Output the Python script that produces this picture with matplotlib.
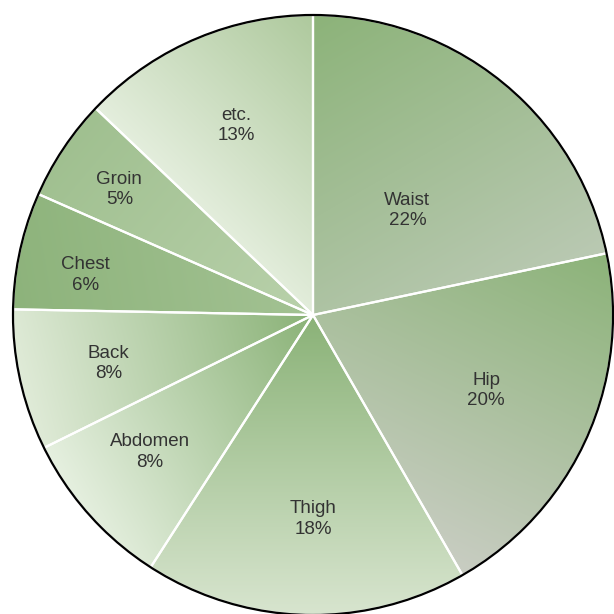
import numpy as np
import matplotlib
matplotlib.use("Agg")
from matplotlib import pyplot as plt
from matplotlib.colors import to_rgb
from matplotlib.patches import Circle

# data (clockwise from 12 o'clock)
labels = ["Waist", "Hip", "Thigh", "Abdomen", "Back", "Chest", "Groin", "etc."]
label_pct = [22, 20, 18, 8, 8, 6, 5, 13]
shares = [21.7, 20.0, 17.4, 8.6, 7.6, 6.3, 5.5, 12.9]

# per-wedge gradient: direction (deg), start colour, end colour
grad_dir = [-60, -115, -90, -150, 195, 10, -40, 45]
grad_from = ["#8cb379", "#8cb379", "#8ab277", "#8ab277", "#8ab277", "#8db37b", "#a0c090", "#e4eedd"]
grad_to = ["#bac9b3", "#c9cdc3", "#d8e5cf", "#e6f0e0", "#e0ebd8", "#a3c293", "#b9d1ab", "#aec99d"]
# label placement (radius, angle in deg)
label_r = [0.47, 0.63, 0.68, 0.71, 0.70, 0.77, 0.77, 0.68]
label_ang = [48, -23.6, -90, -140, -166.6, 170, 147, 112]

fig = plt.figure(figsize=(6.14, 6.14), dpi=100)
ax = fig.add_axes([0, 0, 1, 1])
R = 300.0

wedges, _ = ax.pie(shares, startangle=90, counterclock=False, radius=1, normalize=True,
                   wedgeprops=dict(edgecolor="white", linewidth=1.6, facecolor="none"))

xs = np.linspace(-1.02, 1.02, 500)
X, Y = np.meshgrid(xs, xs[::-1])
for w, d, c0, c1 in zip(wedges, grad_dir, grad_from, grad_to):
    ux, uy = np.cos(np.radians(d)), np.sin(np.radians(d))
    verts = w.get_path().vertices
    pv = verts[:, 0] * ux + verts[:, 1] * uy
    P = X * ux + Y * uy
    t = np.clip((P - pv.min()) / (pv.max() - pv.min()), 0, 1)[..., None]
    img = np.array(to_rgb(c0)) * (1 - t) + np.array(to_rgb(c1)) * t
    im = ax.imshow(img, extent=[-1.02, 1.02, -1.02, 1.02], zorder=1, interpolation="bilinear")
    im.set_clip_path(w)
    w.set_zorder(2)

ax.add_patch(Circle((0, 0), 1, facecolor="none", edgecolor="black", linewidth=1.6, zorder=3))

for lab, p, r, a in zip(labels, label_pct, label_r, label_ang):
    a = np.radians(a)
    ax.text(r * np.cos(a), r * np.sin(a), f"{lab}\n{p}%", ha="center", va="center",
            fontsize=13.5, color="#333333", family="Liberation Sans", linespacing=1.25, zorder=4)

# limits after pie (pie resets them)
ax.set_xlim(-313 / R, (614 - 313) / R)
ax.set_ylim(-(614 - 315) / R, 315 / R)
ax.set_aspect("equal")
ax.axis("off")

fig.savefig("out.png", dpi=100)
